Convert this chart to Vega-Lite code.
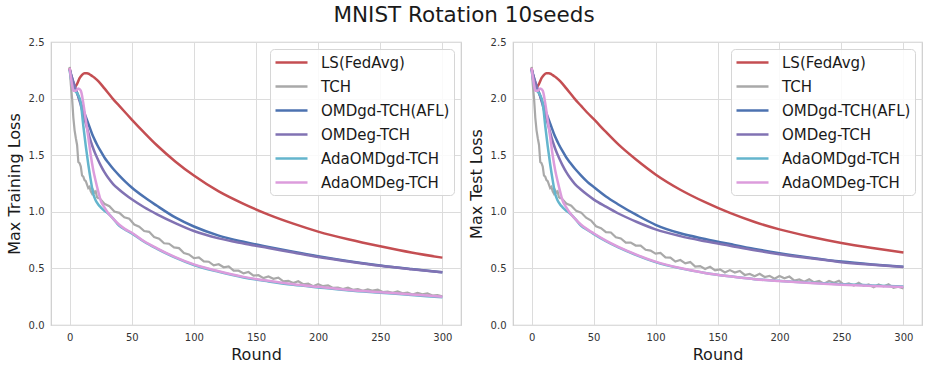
{
  "$schema": "https://vega.github.io/schema/vega-lite/v6.json",
  "padding": {"left": 5, "top": 4, "right": 5, "bottom": 5},
  "title": {"text": "MNIST Rotation 10seeds", "fontSize": 21.5, "font": "DejaVu Sans", "fontWeight": "normal", "color": "#1a1a1a", "anchor": "middle", "offset": 10},
  "config": {
    "font": "DejaVu Sans",
    "view": {"stroke": "#cccccc", "strokeWidth": 1.2},
    "concat": {"spacing": 5},
    "axis": {"domain": false, "ticks": false, "grid": true, "gridColor": "#dcdcdc", "gridWidth": 1, "labelFontSize": 10, "labelColor": "#333333", "labelFont": "DejaVu Sans", "labelPadding": 7, "titleFontSize": 16, "titleFontWeight": "normal", "titleColor": "#1a1a1a", "titleFont": "DejaVu Sans"},
    "legend": {"orient": "top-right", "offset": 7, "labelFontSize": 15, "labelColor": "#1a1a1a", "labelFont": "DejaVu Sans", "symbolType": "M-2,0L2,0", "symbolSize": 256, "symbolStrokeWidth": 2.5, "rowPadding": 6, "padding": 4, "fillColor": "rgba(255,255,255,0.85)", "strokeColor": "#d6d6d6", "cornerRadius": 4, "symbolOffset": 8, "labelOffset": 20}
  },
  "datasets": {
    "train": [
      {"series":"LS(FedAvg)","round":0,"loss":2.27},{"series":"LS(FedAvg)","round":2,"loss":2.16},{"series":"LS(FedAvg)","round":4,"loss":2.10},{"series":"LS(FedAvg)","round":6,"loss":2.13},{"series":"LS(FedAvg)","round":8,"loss":2.18},{"series":"LS(FedAvg)","round":10,"loss":2.21},{"series":"LS(FedAvg)","round":12,"loss":2.225},{"series":"LS(FedAvg)","round":14,"loss":2.225},{"series":"LS(FedAvg)","round":16,"loss":2.215},{"series":"LS(FedAvg)","round":18,"loss":2.20},{"series":"LS(FedAvg)","round":20,"loss":2.185},{"series":"LS(FedAvg)","round":22,"loss":2.165},{"series":"LS(FedAvg)","round":25,"loss":2.13},{"series":"LS(FedAvg)","round":28,"loss":2.09},{"series":"LS(FedAvg)","round":31,"loss":2.05},{"series":"LS(FedAvg)","round":35,"loss":1.995},{"series":"LS(FedAvg)","round":40,"loss":1.935},{"series":"LS(FedAvg)","round":45,"loss":1.875},{"series":"LS(FedAvg)","round":50,"loss":1.815},{"series":"LS(FedAvg)","round":60,"loss":1.70},{"series":"LS(FedAvg)","round":70,"loss":1.59},{"series":"LS(FedAvg)","round":85,"loss":1.445},{"series":"LS(FedAvg)","round":100,"loss":1.32},{"series":"LS(FedAvg)","round":120,"loss":1.18},{"series":"LS(FedAvg)","round":140,"loss":1.07},{"series":"LS(FedAvg)","round":160,"loss":0.975},{"series":"LS(FedAvg)","round":180,"loss":0.895},{"series":"LS(FedAvg)","round":200,"loss":0.825},{"series":"LS(FedAvg)","round":225,"loss":0.755},{"series":"LS(FedAvg)","round":250,"loss":0.695},{"series":"LS(FedAvg)","round":275,"loss":0.64},{"series":"LS(FedAvg)","round":300,"loss":0.595},
      {"series":"OMDgd-TCH(AFL)","round":0,"loss":2.26},{"series":"OMDgd-TCH(AFL)","round":2,"loss":2.18},{"series":"OMDgd-TCH(AFL)","round":4,"loss":2.11},{"series":"OMDgd-TCH(AFL)","round":6,"loss":2.05},{"series":"OMDgd-TCH(AFL)","round":8,"loss":1.99},{"series":"OMDgd-TCH(AFL)","round":10,"loss":1.93},{"series":"OMDgd-TCH(AFL)","round":12,"loss":1.87},{"series":"OMDgd-TCH(AFL)","round":14,"loss":1.81},{"series":"OMDgd-TCH(AFL)","round":16,"loss":1.75},{"series":"OMDgd-TCH(AFL)","round":18,"loss":1.69},{"series":"OMDgd-TCH(AFL)","round":20,"loss":1.64},{"series":"OMDgd-TCH(AFL)","round":22,"loss":1.595},{"series":"OMDgd-TCH(AFL)","round":25,"loss":1.535},{"series":"OMDgd-TCH(AFL)","round":28,"loss":1.48},{"series":"OMDgd-TCH(AFL)","round":31,"loss":1.435},{"series":"OMDgd-TCH(AFL)","round":35,"loss":1.38},{"series":"OMDgd-TCH(AFL)","round":40,"loss":1.32},{"series":"OMDgd-TCH(AFL)","round":45,"loss":1.265},{"series":"OMDgd-TCH(AFL)","round":50,"loss":1.215},{"series":"OMDgd-TCH(AFL)","round":60,"loss":1.13},{"series":"OMDgd-TCH(AFL)","round":70,"loss":1.055},{"series":"OMDgd-TCH(AFL)","round":85,"loss":0.95},{"series":"OMDgd-TCH(AFL)","round":100,"loss":0.87},{"series":"OMDgd-TCH(AFL)","round":120,"loss":0.79},{"series":"OMDgd-TCH(AFL)","round":140,"loss":0.735},{"series":"OMDgd-TCH(AFL)","round":160,"loss":0.69},{"series":"OMDgd-TCH(AFL)","round":180,"loss":0.647},{"series":"OMDgd-TCH(AFL)","round":200,"loss":0.607},{"series":"OMDgd-TCH(AFL)","round":225,"loss":0.563},{"series":"OMDgd-TCH(AFL)","round":250,"loss":0.525},{"series":"OMDgd-TCH(AFL)","round":275,"loss":0.494},{"series":"OMDgd-TCH(AFL)","round":300,"loss":0.466},
      {"series":"OMDeg-TCH","round":0,"loss":2.26},{"series":"OMDeg-TCH","round":2,"loss":2.18},{"series":"OMDeg-TCH","round":4,"loss":2.11},{"series":"OMDeg-TCH","round":6,"loss":2.05},{"series":"OMDeg-TCH","round":8,"loss":1.98},{"series":"OMDeg-TCH","round":10,"loss":1.90},{"series":"OMDeg-TCH","round":12,"loss":1.82},{"series":"OMDeg-TCH","round":14,"loss":1.74},{"series":"OMDeg-TCH","round":16,"loss":1.66},{"series":"OMDeg-TCH","round":18,"loss":1.59},{"series":"OMDeg-TCH","round":20,"loss":1.53},{"series":"OMDeg-TCH","round":22,"loss":1.48},{"series":"OMDeg-TCH","round":25,"loss":1.41},{"series":"OMDeg-TCH","round":28,"loss":1.35},{"series":"OMDeg-TCH","round":31,"loss":1.30},{"series":"OMDeg-TCH","round":35,"loss":1.245},{"series":"OMDeg-TCH","round":40,"loss":1.195},{"series":"OMDeg-TCH","round":45,"loss":1.15},{"series":"OMDeg-TCH","round":50,"loss":1.11},{"series":"OMDeg-TCH","round":60,"loss":1.04},{"series":"OMDeg-TCH","round":70,"loss":0.98},{"series":"OMDeg-TCH","round":85,"loss":0.90},{"series":"OMDeg-TCH","round":100,"loss":0.83},{"series":"OMDeg-TCH","round":120,"loss":0.765},{"series":"OMDeg-TCH","round":140,"loss":0.72},{"series":"OMDeg-TCH","round":160,"loss":0.68},{"series":"OMDeg-TCH","round":180,"loss":0.64},{"series":"OMDeg-TCH","round":200,"loss":0.60},{"series":"OMDeg-TCH","round":225,"loss":0.56},{"series":"OMDeg-TCH","round":250,"loss":0.523},{"series":"OMDeg-TCH","round":275,"loss":0.493},{"series":"OMDeg-TCH","round":300,"loss":0.466},
      {"series":"AdaOMDgd-TCH","round":0,"loss":2.25},{"series":"AdaOMDgd-TCH","round":2,"loss":2.12},{"series":"AdaOMDgd-TCH","round":3,"loss":2.08},{"series":"AdaOMDgd-TCH","round":5,"loss":2.06},{"series":"AdaOMDgd-TCH","round":7,"loss":2.03},{"series":"AdaOMDgd-TCH","round":9,"loss":1.96},{"series":"AdaOMDgd-TCH","round":11,"loss":1.76},{"series":"AdaOMDgd-TCH","round":13,"loss":1.58},{"series":"AdaOMDgd-TCH","round":15,"loss":1.42},{"series":"AdaOMDgd-TCH","round":17,"loss":1.28},{"series":"AdaOMDgd-TCH","round":19,"loss":1.16},{"series":"AdaOMDgd-TCH","round":21,"loss":1.10},{"series":"AdaOMDgd-TCH","round":23,"loss":1.065},{"series":"AdaOMDgd-TCH","round":25,"loss":1.04},{"series":"AdaOMDgd-TCH","round":28,"loss":1.01},{"series":"AdaOMDgd-TCH","round":31,"loss":0.985},{"series":"AdaOMDgd-TCH","round":35,"loss":0.94},{"series":"AdaOMDgd-TCH","round":40,"loss":0.875},{"series":"AdaOMDgd-TCH","round":45,"loss":0.84},{"series":"AdaOMDgd-TCH","round":50,"loss":0.81},{"series":"AdaOMDgd-TCH","round":60,"loss":0.735},{"series":"AdaOMDgd-TCH","round":70,"loss":0.675},{"series":"AdaOMDgd-TCH","round":85,"loss":0.595},{"series":"AdaOMDgd-TCH","round":100,"loss":0.53},{"series":"AdaOMDgd-TCH","round":120,"loss":0.47},{"series":"AdaOMDgd-TCH","round":140,"loss":0.42},{"series":"AdaOMDgd-TCH","round":160,"loss":0.385},{"series":"AdaOMDgd-TCH","round":180,"loss":0.355},{"series":"AdaOMDgd-TCH","round":200,"loss":0.332},{"series":"AdaOMDgd-TCH","round":225,"loss":0.305},{"series":"AdaOMDgd-TCH","round":250,"loss":0.285},{"series":"AdaOMDgd-TCH","round":275,"loss":0.265},{"series":"AdaOMDgd-TCH","round":300,"loss":0.245},
      {"series":"AdaOMDeg-TCH","round":0,"loss":2.27},{"series":"AdaOMDeg-TCH","round":2,"loss":2.12},{"series":"AdaOMDeg-TCH","round":3,"loss":2.07},{"series":"AdaOMDeg-TCH","round":5,"loss":2.07},{"series":"AdaOMDeg-TCH","round":7,"loss":2.09},{"series":"AdaOMDeg-TCH","round":9,"loss":2.07},{"series":"AdaOMDeg-TCH","round":11,"loss":1.96},{"series":"AdaOMDeg-TCH","round":13,"loss":1.81},{"series":"AdaOMDeg-TCH","round":15,"loss":1.66},{"series":"AdaOMDeg-TCH","round":17,"loss":1.50},{"series":"AdaOMDeg-TCH","round":19,"loss":1.37},{"series":"AdaOMDeg-TCH","round":21,"loss":1.27},{"series":"AdaOMDeg-TCH","round":23,"loss":1.18},{"series":"AdaOMDeg-TCH","round":25,"loss":1.10},{"series":"AdaOMDeg-TCH","round":28,"loss":1.04},{"series":"AdaOMDeg-TCH","round":31,"loss":0.99},{"series":"AdaOMDeg-TCH","round":35,"loss":0.94},{"series":"AdaOMDeg-TCH","round":40,"loss":0.885},{"series":"AdaOMDeg-TCH","round":45,"loss":0.845},{"series":"AdaOMDeg-TCH","round":50,"loss":0.815},{"series":"AdaOMDeg-TCH","round":60,"loss":0.74},{"series":"AdaOMDeg-TCH","round":70,"loss":0.68},{"series":"AdaOMDeg-TCH","round":85,"loss":0.60},{"series":"AdaOMDeg-TCH","round":100,"loss":0.535},{"series":"AdaOMDeg-TCH","round":120,"loss":0.475},{"series":"AdaOMDeg-TCH","round":140,"loss":0.425},{"series":"AdaOMDeg-TCH","round":160,"loss":0.39},{"series":"AdaOMDeg-TCH","round":180,"loss":0.36},{"series":"AdaOMDeg-TCH","round":200,"loss":0.337},{"series":"AdaOMDeg-TCH","round":225,"loss":0.31},{"series":"AdaOMDeg-TCH","round":250,"loss":0.29},{"series":"AdaOMDeg-TCH","round":275,"loss":0.27},{"series":"AdaOMDeg-TCH","round":300,"loss":0.25},
      {"series":"TCH","round":0,"loss":2.28},{"series":"TCH","round":1,"loss":2.12},{"series":"TCH","round":2,"loss":2.0},{"series":"TCH","round":3,"loss":1.83},{"series":"TCH","round":4,"loss":1.72},{"series":"TCH","round":5,"loss":1.65},{"series":"TCH","round":6,"loss":1.59},{"series":"TCH","round":7,"loss":1.44},{"series":"TCH","round":8,"loss":1.43},{"series":"TCH","round":9,"loss":1.40},{"series":"TCH","round":10,"loss":1.32},{"series":"TCH","round":11,"loss":1.31},{"series":"TCH","round":12,"loss":1.28},{"series":"TCH","round":13,"loss":1.27},{"series":"TCH","round":14,"loss":1.24},{"series":"TCH","round":15,"loss":1.21},{"series":"TCH","round":16,"loss":1.22},{"series":"TCH","round":17,"loss":1.18},{"series":"TCH","round":18,"loss":1.16},{"series":"TCH","round":19,"loss":1.19},{"series":"TCH","round":20,"loss":1.17},{"series":"TCH","round":21,"loss":1.18},{"series":"TCH","round":22,"loss":1.13},{"series":"TCH","round":23,"loss":1.12},
      {"series":"TCH","round":24,"loss":1.121},{"series":"TCH","round":28,"loss":1.071},{"series":"TCH","round":32,"loss":1.050},{"series":"TCH","round":36,"loss":1.002},{"series":"TCH","round":40,"loss":0.991},{"series":"TCH","round":44,"loss":0.952},{"series":"TCH","round":48,"loss":0.938},{"series":"TCH","round":52,"loss":0.888},{"series":"TCH","round":56,"loss":0.869},{"series":"TCH","round":60,"loss":0.830},{"series":"TCH","round":64,"loss":0.823},{"series":"TCH","round":68,"loss":0.777},{"series":"TCH","round":72,"loss":0.762},{"series":"TCH","round":76,"loss":0.722},{"series":"TCH","round":80,"loss":0.718},{"series":"TCH","round":84,"loss":0.686},{"series":"TCH","round":88,"loss":0.679},{"series":"TCH","round":92,"loss":0.636},{"series":"TCH","round":96,"loss":0.623},{"series":"TCH","round":100,"loss":0.590},
      {"series":"TCH","round":104,"loss":0.597},{"series":"TCH","round":108,"loss":0.562},{"series":"TCH","round":112,"loss":0.559},{"series":"TCH","round":116,"loss":0.527},{"series":"TCH","round":120,"loss":0.537},{"series":"TCH","round":124,"loss":0.510},{"series":"TCH","round":128,"loss":0.517},{"series":"TCH","round":132,"loss":0.480},{"series":"TCH","round":136,"loss":0.480},{"series":"TCH","round":140,"loss":0.456},{"series":"TCH","round":144,"loss":0.468},{"series":"TCH","round":148,"loss":0.437},{"series":"TCH","round":152,"loss":0.440},{"series":"TCH","round":156,"loss":0.414},{"series":"TCH","round":160,"loss":0.429},{"series":"TCH","round":164,"loss":0.408},{"series":"TCH","round":168,"loss":0.418},{"series":"TCH","round":172,"loss":0.386},{"series":"TCH","round":176,"loss":0.390},{"series":"TCH","round":180,"loss":0.371},{"series":"TCH","round":184,"loss":0.387},{"series":"TCH","round":188,"loss":0.360},{"series":"TCH","round":192,"loss":0.366},{"series":"TCH","round":196,"loss":0.342},{"series":"TCH","round":200,"loss":0.360},
      {"series":"TCH","round":204,"loss":0.343},{"series":"TCH","round":208,"loss":0.350},{"series":"TCH","round":212,"loss":0.328},{"series":"TCH","round":216,"loss":0.331},{"series":"TCH","round":220,"loss":0.318},{"series":"TCH","round":224,"loss":0.329},{"series":"TCH","round":228,"loss":0.311},{"series":"TCH","round":232,"loss":0.317},{"series":"TCH","round":236,"loss":0.302},{"series":"TCH","round":240,"loss":0.315},{"series":"TCH","round":244,"loss":0.303},{"series":"TCH","round":248,"loss":0.312},{"series":"TCH","round":252,"loss":0.291},{"series":"TCH","round":256,"loss":0.296},{"series":"TCH","round":260,"loss":0.284},{"series":"TCH","round":264,"loss":0.297},{"series":"TCH","round":268,"loss":0.280},{"series":"TCH","round":272,"loss":0.285},{"series":"TCH","round":276,"loss":0.270},{"series":"TCH","round":280,"loss":0.283},{"series":"TCH","round":284,"loss":0.271},{"series":"TCH","round":288,"loss":0.280},{"series":"TCH","round":292,"loss":0.260},{"series":"TCH","round":296,"loss":0.264},{"series":"TCH","round":300,"loss":0.254}
    ],
    "test": [
      {"series":"LS(FedAvg)","round":0,"loss":2.27},{"series":"LS(FedAvg)","round":2,"loss":2.16},{"series":"LS(FedAvg)","round":4,"loss":2.10},{"series":"LS(FedAvg)","round":6,"loss":2.13},{"series":"LS(FedAvg)","round":8,"loss":2.18},{"series":"LS(FedAvg)","round":10,"loss":2.21},{"series":"LS(FedAvg)","round":12,"loss":2.225},{"series":"LS(FedAvg)","round":14,"loss":2.225},{"series":"LS(FedAvg)","round":16,"loss":2.215},{"series":"LS(FedAvg)","round":18,"loss":2.20},{"series":"LS(FedAvg)","round":20,"loss":2.185},{"series":"LS(FedAvg)","round":22,"loss":2.165},{"series":"LS(FedAvg)","round":25,"loss":2.13},{"series":"LS(FedAvg)","round":28,"loss":2.09},{"series":"LS(FedAvg)","round":31,"loss":2.05},{"series":"LS(FedAvg)","round":35,"loss":1.995},{"series":"LS(FedAvg)","round":40,"loss":1.935},{"series":"LS(FedAvg)","round":45,"loss":1.875},{"series":"LS(FedAvg)","round":50,"loss":1.82},{"series":"LS(FedAvg)","round":60,"loss":1.705},{"series":"LS(FedAvg)","round":70,"loss":1.595},{"series":"LS(FedAvg)","round":85,"loss":1.455},{"series":"LS(FedAvg)","round":100,"loss":1.33},{"series":"LS(FedAvg)","round":120,"loss":1.195},{"series":"LS(FedAvg)","round":140,"loss":1.085},{"series":"LS(FedAvg)","round":160,"loss":0.99},{"series":"LS(FedAvg)","round":180,"loss":0.91},{"series":"LS(FedAvg)","round":200,"loss":0.845},{"series":"LS(FedAvg)","round":225,"loss":0.78},{"series":"LS(FedAvg)","round":250,"loss":0.725},{"series":"LS(FedAvg)","round":275,"loss":0.68},{"series":"LS(FedAvg)","round":300,"loss":0.64},
      {"series":"OMDgd-TCH(AFL)","round":0,"loss":2.26},{"series":"OMDgd-TCH(AFL)","round":2,"loss":2.18},{"series":"OMDgd-TCH(AFL)","round":4,"loss":2.11},{"series":"OMDgd-TCH(AFL)","round":6,"loss":2.05},{"series":"OMDgd-TCH(AFL)","round":8,"loss":1.99},{"series":"OMDgd-TCH(AFL)","round":10,"loss":1.93},{"series":"OMDgd-TCH(AFL)","round":12,"loss":1.87},{"series":"OMDgd-TCH(AFL)","round":14,"loss":1.81},{"series":"OMDgd-TCH(AFL)","round":16,"loss":1.75},{"series":"OMDgd-TCH(AFL)","round":18,"loss":1.69},{"series":"OMDgd-TCH(AFL)","round":20,"loss":1.64},{"series":"OMDgd-TCH(AFL)","round":22,"loss":1.595},{"series":"OMDgd-TCH(AFL)","round":25,"loss":1.535},{"series":"OMDgd-TCH(AFL)","round":28,"loss":1.48},{"series":"OMDgd-TCH(AFL)","round":31,"loss":1.435},{"series":"OMDgd-TCH(AFL)","round":35,"loss":1.38},{"series":"OMDgd-TCH(AFL)","round":40,"loss":1.32},{"series":"OMDgd-TCH(AFL)","round":45,"loss":1.265},{"series":"OMDgd-TCH(AFL)","round":50,"loss":1.22},{"series":"OMDgd-TCH(AFL)","round":60,"loss":1.135},{"series":"OMDgd-TCH(AFL)","round":70,"loss":1.065},{"series":"OMDgd-TCH(AFL)","round":85,"loss":0.97},{"series":"OMDgd-TCH(AFL)","round":100,"loss":0.885},{"series":"OMDgd-TCH(AFL)","round":120,"loss":0.81},{"series":"OMDgd-TCH(AFL)","round":140,"loss":0.76},{"series":"OMDgd-TCH(AFL)","round":160,"loss":0.715},{"series":"OMDgd-TCH(AFL)","round":180,"loss":0.672},{"series":"OMDgd-TCH(AFL)","round":200,"loss":0.635},{"series":"OMDgd-TCH(AFL)","round":225,"loss":0.595},{"series":"OMDgd-TCH(AFL)","round":250,"loss":0.56},{"series":"OMDgd-TCH(AFL)","round":275,"loss":0.535},{"series":"OMDgd-TCH(AFL)","round":300,"loss":0.515},
      {"series":"OMDeg-TCH","round":0,"loss":2.26},{"series":"OMDeg-TCH","round":2,"loss":2.18},{"series":"OMDeg-TCH","round":4,"loss":2.11},{"series":"OMDeg-TCH","round":6,"loss":2.05},{"series":"OMDeg-TCH","round":8,"loss":1.98},{"series":"OMDeg-TCH","round":10,"loss":1.90},{"series":"OMDeg-TCH","round":12,"loss":1.82},{"series":"OMDeg-TCH","round":14,"loss":1.74},{"series":"OMDeg-TCH","round":16,"loss":1.66},{"series":"OMDeg-TCH","round":18,"loss":1.59},{"series":"OMDeg-TCH","round":20,"loss":1.53},{"series":"OMDeg-TCH","round":22,"loss":1.48},{"series":"OMDeg-TCH","round":25,"loss":1.41},{"series":"OMDeg-TCH","round":28,"loss":1.35},{"series":"OMDeg-TCH","round":31,"loss":1.30},{"series":"OMDeg-TCH","round":35,"loss":1.245},{"series":"OMDeg-TCH","round":40,"loss":1.195},{"series":"OMDeg-TCH","round":45,"loss":1.15},{"series":"OMDeg-TCH","round":50,"loss":1.11},{"series":"OMDeg-TCH","round":60,"loss":1.045},{"series":"OMDeg-TCH","round":70,"loss":0.985},{"series":"OMDeg-TCH","round":85,"loss":0.91},{"series":"OMDeg-TCH","round":100,"loss":0.845},{"series":"OMDeg-TCH","round":120,"loss":0.785},{"series":"OMDeg-TCH","round":140,"loss":0.74},{"series":"OMDeg-TCH","round":160,"loss":0.70},{"series":"OMDeg-TCH","round":180,"loss":0.66},{"series":"OMDeg-TCH","round":200,"loss":0.625},{"series":"OMDeg-TCH","round":225,"loss":0.59},{"series":"OMDeg-TCH","round":250,"loss":0.555},{"series":"OMDeg-TCH","round":275,"loss":0.532},{"series":"OMDeg-TCH","round":300,"loss":0.512},
      {"series":"AdaOMDgd-TCH","round":0,"loss":2.25},{"series":"AdaOMDgd-TCH","round":2,"loss":2.12},{"series":"AdaOMDgd-TCH","round":3,"loss":2.08},{"series":"AdaOMDgd-TCH","round":5,"loss":2.06},{"series":"AdaOMDgd-TCH","round":7,"loss":2.03},{"series":"AdaOMDgd-TCH","round":9,"loss":1.96},{"series":"AdaOMDgd-TCH","round":11,"loss":1.76},{"series":"AdaOMDgd-TCH","round":13,"loss":1.58},{"series":"AdaOMDgd-TCH","round":15,"loss":1.42},{"series":"AdaOMDgd-TCH","round":17,"loss":1.28},{"series":"AdaOMDgd-TCH","round":19,"loss":1.16},{"series":"AdaOMDgd-TCH","round":21,"loss":1.10},{"series":"AdaOMDgd-TCH","round":23,"loss":1.065},{"series":"AdaOMDgd-TCH","round":25,"loss":1.04},{"series":"AdaOMDgd-TCH","round":28,"loss":1.01},{"series":"AdaOMDgd-TCH","round":31,"loss":0.985},{"series":"AdaOMDgd-TCH","round":35,"loss":0.94},{"series":"AdaOMDgd-TCH","round":40,"loss":0.875},{"series":"AdaOMDgd-TCH","round":45,"loss":0.84},{"series":"AdaOMDgd-TCH","round":50,"loss":0.805},{"series":"AdaOMDgd-TCH","round":60,"loss":0.74},{"series":"AdaOMDgd-TCH","round":70,"loss":0.685},{"series":"AdaOMDgd-TCH","round":85,"loss":0.615},{"series":"AdaOMDgd-TCH","round":100,"loss":0.555},{"series":"AdaOMDgd-TCH","round":120,"loss":0.50},{"series":"AdaOMDgd-TCH","round":140,"loss":0.46},{"series":"AdaOMDgd-TCH","round":160,"loss":0.43},{"series":"AdaOMDgd-TCH","round":180,"loss":0.405},{"series":"AdaOMDgd-TCH","round":200,"loss":0.39},{"series":"AdaOMDgd-TCH","round":225,"loss":0.373},{"series":"AdaOMDgd-TCH","round":250,"loss":0.36},{"series":"AdaOMDgd-TCH","round":275,"loss":0.35},{"series":"AdaOMDgd-TCH","round":300,"loss":0.34},
      {"series":"AdaOMDeg-TCH","round":0,"loss":2.27},{"series":"AdaOMDeg-TCH","round":2,"loss":2.12},{"series":"AdaOMDeg-TCH","round":3,"loss":2.07},{"series":"AdaOMDeg-TCH","round":5,"loss":2.07},{"series":"AdaOMDeg-TCH","round":7,"loss":2.09},{"series":"AdaOMDeg-TCH","round":9,"loss":2.07},{"series":"AdaOMDeg-TCH","round":11,"loss":1.96},{"series":"AdaOMDeg-TCH","round":13,"loss":1.81},{"series":"AdaOMDeg-TCH","round":15,"loss":1.66},{"series":"AdaOMDeg-TCH","round":17,"loss":1.50},{"series":"AdaOMDeg-TCH","round":19,"loss":1.37},{"series":"AdaOMDeg-TCH","round":21,"loss":1.27},{"series":"AdaOMDeg-TCH","round":23,"loss":1.18},{"series":"AdaOMDeg-TCH","round":25,"loss":1.10},{"series":"AdaOMDeg-TCH","round":28,"loss":1.04},{"series":"AdaOMDeg-TCH","round":31,"loss":0.99},{"series":"AdaOMDeg-TCH","round":35,"loss":0.94},{"series":"AdaOMDeg-TCH","round":40,"loss":0.885},{"series":"AdaOMDeg-TCH","round":45,"loss":0.845},{"series":"AdaOMDeg-TCH","round":50,"loss":0.81},{"series":"AdaOMDeg-TCH","round":60,"loss":0.745},{"series":"AdaOMDeg-TCH","round":70,"loss":0.69},{"series":"AdaOMDeg-TCH","round":85,"loss":0.62},{"series":"AdaOMDeg-TCH","round":100,"loss":0.56},{"series":"AdaOMDeg-TCH","round":120,"loss":0.503},{"series":"AdaOMDeg-TCH","round":140,"loss":0.46},{"series":"AdaOMDeg-TCH","round":160,"loss":0.43},{"series":"AdaOMDeg-TCH","round":180,"loss":0.405},{"series":"AdaOMDeg-TCH","round":200,"loss":0.388},{"series":"AdaOMDeg-TCH","round":225,"loss":0.37},{"series":"AdaOMDeg-TCH","round":250,"loss":0.356},{"series":"AdaOMDeg-TCH","round":275,"loss":0.345},{"series":"AdaOMDeg-TCH","round":300,"loss":0.335},
      {"series":"TCH","round":0,"loss":2.28},{"series":"TCH","round":1,"loss":2.12},{"series":"TCH","round":2,"loss":2.0},{"series":"TCH","round":3,"loss":1.83},{"series":"TCH","round":4,"loss":1.72},{"series":"TCH","round":5,"loss":1.65},{"series":"TCH","round":6,"loss":1.59},{"series":"TCH","round":7,"loss":1.44},{"series":"TCH","round":8,"loss":1.43},{"series":"TCH","round":9,"loss":1.40},{"series":"TCH","round":10,"loss":1.32},{"series":"TCH","round":11,"loss":1.31},{"series":"TCH","round":12,"loss":1.28},{"series":"TCH","round":13,"loss":1.27},{"series":"TCH","round":14,"loss":1.24},{"series":"TCH","round":15,"loss":1.21},{"series":"TCH","round":16,"loss":1.22},{"series":"TCH","round":17,"loss":1.18},{"series":"TCH","round":18,"loss":1.16},{"series":"TCH","round":19,"loss":1.19},{"series":"TCH","round":20,"loss":1.17},{"series":"TCH","round":21,"loss":1.18},{"series":"TCH","round":22,"loss":1.13},{"series":"TCH","round":23,"loss":1.12},
      {"series":"TCH","round":24,"loss":1.121},{"series":"TCH","round":28,"loss":1.073},{"series":"TCH","round":32,"loss":1.054},{"series":"TCH","round":36,"loss":1.008},{"series":"TCH","round":40,"loss":0.993},{"series":"TCH","round":44,"loss":0.948},{"series":"TCH","round":48,"loss":0.923},{"series":"TCH","round":52,"loss":0.872},{"series":"TCH","round":56,"loss":0.856},{"series":"TCH","round":60,"loss":0.820},{"series":"TCH","round":64,"loss":0.817},{"series":"TCH","round":68,"loss":0.775},{"series":"TCH","round":72,"loss":0.764},{"series":"TCH","round":76,"loss":0.728},{"series":"TCH","round":80,"loss":0.728},{"series":"TCH","round":84,"loss":0.702},{"series":"TCH","round":88,"loss":0.701},{"series":"TCH","round":92,"loss":0.664},{"series":"TCH","round":96,"loss":0.657},{"series":"TCH","round":100,"loss":0.630},
      {"series":"TCH","round":104,"loss":0.637},{"series":"TCH","round":108,"loss":0.597},{"series":"TCH","round":112,"loss":0.595},{"series":"TCH","round":116,"loss":0.560},{"series":"TCH","round":120,"loss":0.574},{"series":"TCH","round":124,"loss":0.545},{"series":"TCH","round":128,"loss":0.556},{"series":"TCH","round":132,"loss":0.516},{"series":"TCH","round":136,"loss":0.520},{"series":"TCH","round":140,"loss":0.495},{"series":"TCH","round":144,"loss":0.514},{"series":"TCH","round":148,"loss":0.483},{"series":"TCH","round":152,"loss":0.492},{"series":"TCH","round":156,"loss":0.464},{"series":"TCH","round":160,"loss":0.485},{"series":"TCH","round":164,"loss":0.464},{"series":"TCH","round":168,"loss":0.478},{"series":"TCH","round":172,"loss":0.442},{"series":"TCH","round":176,"loss":0.451},{"series":"TCH","round":180,"loss":0.431},{"series":"TCH","round":184,"loss":0.453},{"series":"TCH","round":188,"loss":0.424},{"series":"TCH","round":192,"loss":0.434},{"series":"TCH","round":196,"loss":0.408},{"series":"TCH","round":200,"loss":0.432},
      {"series":"TCH","round":204,"loss":0.412},{"series":"TCH","round":208,"loss":0.428},{"series":"TCH","round":212,"loss":0.393},{"series":"TCH","round":216,"loss":0.402},{"series":"TCH","round":220,"loss":0.382},{"series":"TCH","round":224,"loss":0.404},{"series":"TCH","round":228,"loss":0.377},{"series":"TCH","round":232,"loss":0.389},{"series":"TCH","round":236,"loss":0.365},{"series":"TCH","round":240,"loss":0.390},{"series":"TCH","round":244,"loss":0.372},{"series":"TCH","round":248,"loss":0.390},{"series":"TCH","round":252,"loss":0.357},{"series":"TCH","round":256,"loss":0.367},{"series":"TCH","round":260,"loss":0.349},{"series":"TCH","round":264,"loss":0.373},{"series":"TCH","round":268,"loss":0.346},{"series":"TCH","round":272,"loss":0.358},{"series":"TCH","round":276,"loss":0.334},{"series":"TCH","round":280,"loss":0.359},{"series":"TCH","round":284,"loss":0.341},{"series":"TCH","round":288,"loss":0.360},{"series":"TCH","round":292,"loss":0.328},{"series":"TCH","round":296,"loss":0.339},{"series":"TCH","round":300,"loss":0.322}
    ]
  },
  "hconcat": [
    {
      "width": 410, "height": 283,
      "data": {"name": "train"},
      "encoding": {
        "x": {"field": "round", "type": "quantitative", "title": "Round", "scale": {"domain": [-15, 315], "nice": false, "zero": false}, "axis": {"values": [0, 50, 100, 150, 200, 250, 300], "titlePadding": 4}},
        "y": {"field": "loss", "type": "quantitative", "title": "Max Training Loss", "scale": {"domain": [0, 2.5], "nice": false}, "axis": {"values": [0, 0.5, 1, 1.5, 2, 2.5], "format": ".1f", "titlePadding": 6}},
        "color": {"field": "series", "type": "nominal", "scale": {"domain": ["LS(FedAvg)", "TCH", "OMDgd-TCH(AFL)", "OMDeg-TCH", "AdaOMDgd-TCH", "AdaOMDeg-TCH"], "range": ["#C44E52", "#A9A9A9", "#4C72B0", "#8172B3", "#64B5CD", "#DC9CDC"]}, "legend": {"title": null}}
      },
      "layer": [
        {"transform": [{"filter": "datum.series === 'TCH'"}], "mark": {"type": "line", "strokeWidth": 2.2}},
        {"transform": [{"filter": "datum.series !== 'TCH'"}], "mark": {"type": "line", "interpolate": "monotone", "strokeWidth": 2.5}}
      ]
    },
    {
      "width": 409, "height": 283,
      "data": {"name": "test"},
      "encoding": {
        "x": {"field": "round", "type": "quantitative", "title": "Round", "scale": {"domain": [-15, 315], "nice": false, "zero": false}, "axis": {"values": [0, 50, 100, 150, 200, 250, 300], "titlePadding": 4}},
        "y": {"field": "loss", "type": "quantitative", "title": "Max Test Loss", "scale": {"domain": [0, 2.5], "nice": false}, "axis": {"values": [0, 0.5, 1, 1.5, 2, 2.5], "format": ".1f", "titlePadding": 6}},
        "color": {"field": "series", "type": "nominal", "scale": {"domain": ["LS(FedAvg)", "TCH", "OMDgd-TCH(AFL)", "OMDeg-TCH", "AdaOMDgd-TCH", "AdaOMDeg-TCH"], "range": ["#C44E52", "#A9A9A9", "#4C72B0", "#8172B3", "#64B5CD", "#DC9CDC"]}, "legend": {"title": null}}
      },
      "layer": [
        {"transform": [{"filter": "datum.series === 'TCH'"}], "mark": {"type": "line", "strokeWidth": 2.2}},
        {"transform": [{"filter": "datum.series !== 'TCH'"}], "mark": {"type": "line", "interpolate": "monotone", "strokeWidth": 2.5}}
      ]
    }
  ],
  "resolve": {"legend": {"color": "independent"}}
}
